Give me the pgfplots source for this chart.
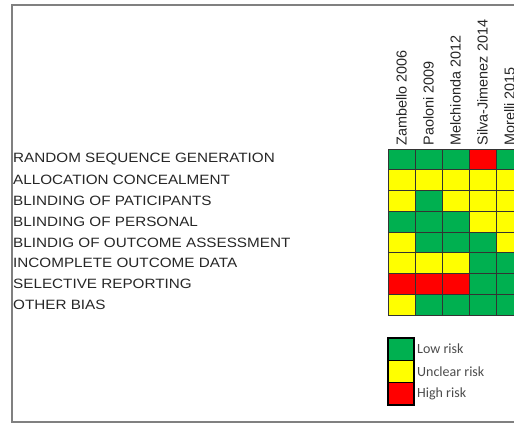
\documentclass[border=0pt]{standalone}
\usepackage{fontspec}
\setmainfont{Liberation Sans}
\newfontfamily\rowfont{Liberation Sans}[FakeStretch=1.13]
\newfontfamily\legfont{Carlito}
\usepackage{pgfplots}
\pgfplotsset{compat=1.18}
\begin{document}
\begin{tikzpicture}
\draw[line width=2pt, black!50] (11.5pt,-5.5pt) rectangle (560pt,-421.5pt);
\begin{axis}[
  at={(388pt,-149pt)}, anchor=north west,
  scale only axis, width=135pt, height=166pt,
  xmin=-0.5, xmax=4.5, ymin=-0.5, ymax=7.5, y dir=reverse,
  colormap={rob}{rgb255=(0,176,80) rgb255=(255,255,0) rgb255=(255,0,0)},
  colormap access=direct,
  axis line style={draw=none}, major tick length=0pt, minor tick length=0pt,
  xtick={0,...,4},
  xticklabels={Zambello 2006, Paoloni 2009, Melchionda 2012, Silva-Jimenez 2014, Morelli 2015},
  xticklabel pos=right,
  xticklabel style={rotate=90, anchor=west, font=\fontsize{14.4}{14}\selectfont, text=black!85},
  ytick={0,...,7},
  yticklabels={RANDOM SEQUENCE GENERATION, ALLOCATION CONCEALMENT, BLINDING OF PATICIPANTS, BLINDING OF PERSONAL, BLINDIG OF OUTCOME ASSESSMENT, INCOMPLETE OUTCOME DATA, SELECTIVE REPORTING, OTHER BIAS},
  yticklabel style={anchor=west, xshift=-375pt, inner xsep=0pt, text=black!85, font=\rowfont\fontsize{13.5}{14}\selectfont},
  minor xtick={-0.5,0.5,...,4.5}, minor ytick={-0.5,0.5,...,7.5},
  grid=minor, minor grid style={black!80, line width=0.8pt},
  axis on top,
]
\addplot[matrix plot*, mesh/cols=5, mesh/rows=8, point meta=explicit] table[meta=c] {
x y c
0 0 0
1 0 0
2 0 0
3 0 2
4 0 0
0 1 1
1 1 1
2 1 1
3 1 1
4 1 1
0 2 1
1 2 0
2 2 1
3 2 1
4 2 1
0 3 0
1 3 0
2 3 0
3 3 1
4 3 1
0 4 1
1 4 0
2 4 0
3 4 0
4 4 1
0 5 1
1 5 1
2 5 1
3 5 0
4 5 0
0 6 2
1 6 2
2 6 2
3 6 0
4 6 0
0 7 1
1 7 0
2 7 0
3 7 0
4 7 0
};
\end{axis}
\begin{axis}[
  at={(388pt,-338pt)}, anchor=north west,
  scale only axis, width=26pt, height=67pt,
  xmin=-0.5, xmax=1.5, ymin=-0.5, ymax=2.5, y dir=reverse,
  colormap={rob}{rgb255=(0,176,80) rgb255=(255,255,0) rgb255=(255,0,0)},
  colormap access=direct,
  xtick=\empty, ytick={0,1,2},
  yticklabels={Low risk, Unclear risk, High risk},
  yticklabel pos=right,
  yticklabel style={anchor=west, inner xsep=3pt, text=black!70, font=\legfont\fontsize{14}{14}\selectfont},
  major tick length=0pt, minor tick length=0pt,
  axis line style={black, line width=1.6pt},
  minor ytick={0.5,1.5}, grid=minor, minor grid style={black, line width=0.8pt},
  axis on top,
]
\addplot[matrix plot*, mesh/cols=2, mesh/rows=3, point meta=explicit] table[meta=c] {
x y c
0 0 0
1 0 0
0 1 1
1 1 1
0 2 2
1 2 2
};
\end{axis}
\pgfresetboundingbox
\useasboundingbox (0pt,0pt) rectangle (514pt,-425pt);
\end{tikzpicture}
\end{document}
